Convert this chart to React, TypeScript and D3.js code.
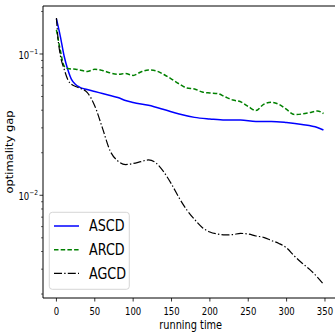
import React from 'react';
import * as d3 from 'd3';

const ascdTime = [0,5,10,15,20,25,30,40,50,60,70,80,90,100,120,140,160,180,200,220,240,260,280,300,320,340,348];
const ascdGap = [0.177,0.134,0.0968,0.0771,0.0655,0.0608,0.0583,0.0561,0.0543,0.0525,0.0508,0.0492,0.0469,0.0454,0.0433,0.0405,0.0376,0.0356,0.0347,0.0341,0.0341,0.0333,0.0333,0.0327,0.0317,0.0302,0.0290];

const arcdTime = [0,5,10,15,20,25,30,40,50,60,70,80,90,100,110,120,130,140,150,160,170,180,190,200,210,220,230,240,250,260,270,280,290,300,310,320,330,340,348];
const arcdGap = [0.148,0.1067,0.0822,0.0789,0.0783,0.0780,0.0771,0.0752,0.0780,0.0764,0.0735,0.0718,0.0728,0.0705,0.0746,0.0771,0.0759,0.0716,0.0665,0.0614,0.0574,0.0565,0.0538,0.0530,0.0525,0.0497,0.0472,0.0459,0.0425,0.0398,0.0440,0.0455,0.0440,0.0405,0.0373,0.0376,0.0385,0.0395,0.0379];

const agcdTime = [0,2,5,10,15,20,25,30,40,50,60,70,80,90,100,110,120,130,140,150,160,170,180,190,200,210,220,230,240,250,260,270,280,290,300,310,320,330,340,348];
const agcdGap = [0.180,0.130,0.0984,0.0783,0.0655,0.0608,0.0589,0.0574,0.0535,0.0429,0.0299,0.0206,0.0175,0.0165,0.0168,0.0173,0.0178,0.0169,0.0146,0.0120,0.00957,0.00787,0.00675,0.00592,0.00550,0.00532,0.00524,0.00527,0.00537,0.00532,0.00515,0.00504,0.00479,0.00456,0.00424,0.00372,0.00332,0.00299,0.00264,0.00235];

const xTicks = [0,50,100,150,200,250,300,350];
const yMajor = [0.01, 0.1];
const yMajorLabels = ['\u22122', '\u22121'];
const yMinor = [2e-3,3e-3,4e-3,5e-3,6e-3,7e-3,8e-3,9e-3,2e-2,3e-2,4e-2,5e-2,6e-2,7e-2,8e-2,9e-2,2e-1];

const seriesNames = ['ASCD', 'ARCD', 'AGCD'];
const xLabel = 'running time';
const yLabel = 'optimality gap';

const W = 335, H = 332;
const L = 43, R = 338.4, T = 6, B = 298;
const SX = 0.85;
const FONT = 'DejaVu Sans';

const styles = [
  { color: '#0000ff', width: 1.5, dash: 'none' },
  { color: '#008000', width: 1.5, dash: '4.5,2.2' },
  { color: '#000000', width: 1.2, dash: '8,2.2,1.4,2.2' },
];

export default function App() {
  const x = d3.scaleLinear().domain([-17.5, 367.5]).range([L, R]);
  const y = d3.scaleLog().domain([0.001875, 0.2186]).range([B, T]);
  const line = d3.line<[number, number]>()
    .x(d => x(d[0]))
    .y(d => y(d[1]))
    .curve(d3.curveMonotoneX);
  const series: [number, number][][] = [
    ascdTime.map((t, i) => [t, ascdGap[i]]),
    arcdTime.map((t, i) => [t, arcdGap[i]]),
    agcdTime.map((t, i) => [t, agcdGap[i]]),
  ];
  const legY = [226, 249.7, 273.3];
  return (
    <svg width={W} height={H} style={{ position: 'absolute', left: 0, top: 0, background: '#fff' }} fontFamily={FONT}>
      <rect x={0} y={0} width={W} height={H} fill="#fff" />
      <defs>
        <clipPath id="plotClip">
          <rect x={L} y={T} width={R - L} height={B - T} />
        </clipPath>
      </defs>
      <g clipPath="url(#plotClip)">
        {series.map((s, i) => (
          <path key={i} d={line(s) || ''} fill="none" stroke={styles[i].color}
            strokeWidth={styles[i].width} strokeDasharray={styles[i].dash} />
        ))}
      </g>
      {/* spines */}
      <line x1={L} x2={L} y1={T} y2={B} stroke="#000" strokeWidth={1} />
      <line x1={L} x2={R} y1={B} y2={B} stroke="#000" strokeWidth={1} />
      <line x1={L} x2={R} y1={T} y2={T} stroke="#000" strokeWidth={1} />
      <line x1={R} x2={R} y1={T} y2={B} stroke="#000" strokeWidth={1} />
      {/* x ticks */}
      {xTicks.map(t => (
        <g key={t}>
          <line x1={x(t)} x2={x(t)} y1={B} y2={B + 3.5} stroke="#000" strokeWidth={0.8} />
          <text transform={`translate(${x(t)},315) scale(${SX},1)`} textAnchor="middle" fontSize={10} fill="#000">{t}</text>
        </g>
      ))}
      {/* y ticks */}
      {yMinor.map(v => (
        <line key={v} x1={L} x2={L - 2} y1={y(v)} y2={y(v)} stroke="#000" strokeWidth={0.6} />
      ))}
      {yMajor.map((v, i) => (
        <g key={v}>
          <line x1={L} x2={L - 3.5} y1={y(v)} y2={y(v)} stroke="#000" strokeWidth={0.8} />
          <text transform={`translate(38,${y(v) + 5}) scale(${SX},1)`} textAnchor="end" fontSize={10} fill="#000">
            10<tspan fontSize={7} dy={-5}>{yMajorLabels[i]}</tspan>
          </text>
        </g>
      ))}
      {/* axis labels */}
      <text transform={`translate(${(L + R) / 2},329) scale(${SX},1)`} textAnchor="middle" fontSize={11.5} fill="#000">{xLabel}</text>
      <text transform={`translate(12.5,${(T + B) / 2}) scale(${SX},1) rotate(-90)`} textAnchor="middle" fontSize={11.5} fill="#000">{yLabel}</text>
      {/* legend */}
      <rect x={49.3} y={212.3} width={80} height={77} rx={3} fill="#fff" fillOpacity={0.8} stroke="#cccccc" strokeWidth={0.8} />
      {seriesNames.map((n, i) => (
        <g key={n}>
          <line x1={54} x2={79} y1={legY[i]} y2={legY[i]} stroke={styles[i].color}
            strokeWidth={styles[i].width} strokeDasharray={styles[i].dash} />
          <text transform={`translate(89,${legY[i] + 5.4}) scale(${SX},1)`} fontSize={15} fill="#000">{n}</text>
        </g>
      ))}
    </svg>
  );
}
